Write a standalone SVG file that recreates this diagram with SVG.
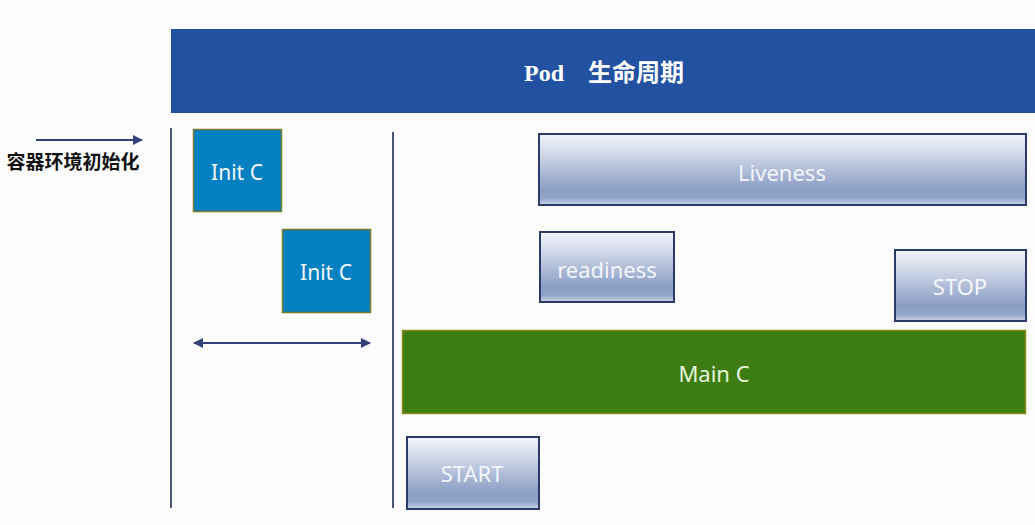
<svg xmlns="http://www.w3.org/2000/svg" width="1035" height="525" viewBox="0 0 1035 525">
<style>
.lbl{font-family:"Noto Sans","Open Sans","Liberation Sans",sans-serif;fill:#f4f6fb;text-anchor:middle;dominant-baseline:central}
.init{fill:#0580c0;stroke:#7a7a2a;stroke-width:1.5}
.probe{fill:url(#g);stroke:#2c3a6a;stroke-width:2}
.vline{stroke:#4a5878;stroke-width:2}
.conn{stroke:#33427a;stroke-width:2;fill:none}
</style>
<defs>
<linearGradient id="g" x1="0" y1="0" x2="0" y2="1">
<stop offset="0" stop-color="#f2f4f9"/>
<stop offset="0.2" stop-color="#dbe1ee"/>
<stop offset="0.78" stop-color="#8b9ec4"/>
<stop offset="0.9" stop-color="#90a3c8"/>
<stop offset="1" stop-color="#c9d3e7"/>
</linearGradient>
<marker id="ah" viewBox="0 0 10 10" refX="9" refY="5" markerWidth="5" markerHeight="5" orient="auto-start-reverse">
<path d="M0,0 L10,5 L0,10 z" fill="#33427a"/>
</marker>
</defs>
<rect width="1035" height="525" fill="#fcfcfc"/>
<g id="header">
<rect x="171" y="29" width="864" height="84" fill="#2351a1"/>
<text x="604" y="73" class="lbl" style="font-family:'Liberation Serif','Noto Sans CJK SC',serif;font-weight:bold;font-size:24px;fill:#ffffff">Pod　生命周期</text>
</g>
<g id="connectors">
<line class="vline" x1="171" y1="128" x2="171" y2="508"/>
<line class="vline" x1="393" y1="132" x2="393" y2="508"/>
<line class="conn" x1="36" y1="140" x2="142" y2="140" marker-end="url(#ah)"/>
<line class="conn" x1="194" y1="343" x2="370" y2="343" marker-start="url(#ah)" marker-end="url(#ah)"/>
</g>
<g id="env-label">
<text x="73" y="160" style="font-family:'Noto Sans CJK SC',sans-serif;font-weight:bold;font-size:19px;fill:#111;text-anchor:middle;dominant-baseline:central">容器环境初始化</text>
</g>
<g id="init1">
<rect class="init" x="193.5" y="129.5" width="88" height="82"/>
<text x="237" y="172" class="lbl" font-size="21">Init C</text>
</g>
<g id="init2">
<rect class="init" x="282.5" y="229.5" width="88" height="83"/>
<text x="326" y="272" class="lbl" font-size="21">Init C</text>
</g>
<g id="liveness">
<rect class="probe" x="539" y="134" width="487" height="71"/>
<text x="782" y="172" class="lbl" font-size="22">Liveness</text>
</g>
<g id="readiness">
<rect class="probe" x="540" y="232" width="134" height="70"/>
<text x="607" y="269" class="lbl" font-size="22">readiness</text>
</g>
<g id="stop">
<rect class="probe" x="895" y="250" width="131" height="71"/>
<text x="960" y="286" class="lbl" font-size="22">STOP</text>
</g>
<g id="mainc">
<rect x="402.5" y="330.5" width="623" height="83" fill="#3e7d14" stroke="#8a8a1a" stroke-width="1.5"/>
<text x="714" y="373" class="lbl" font-size="22" style="fill:#e6f4dc">Main C</text>
</g>
<g id="start">
<rect class="probe" x="407" y="437" width="132" height="72"/>
<text x="472" y="473" class="lbl" font-size="22">START</text>
</g>
</svg>
